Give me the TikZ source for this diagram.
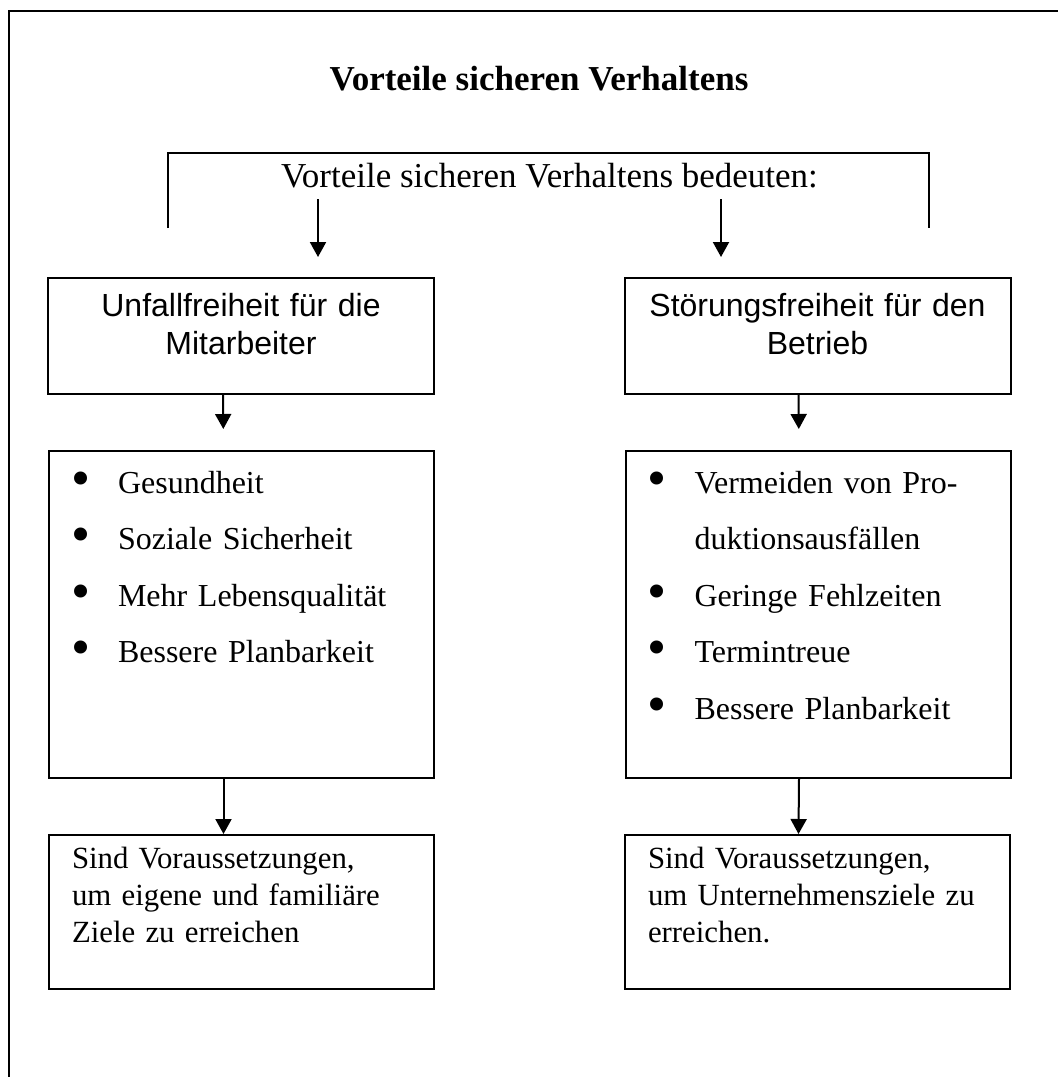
\documentclass[tikz,border=0pt]{standalone}
\usepackage{fontspec}
\setmainfont{Liberation Serif}
\newfontfamily\arialfont{Liberation Sans}
\usetikzlibrary{arrows.meta}
\newcommand\blt{\makebox[34.5pt][l]{\hspace*{11pt}\raisebox{-1.6pt}{\scalebox{1.7}{\textbullet}}}}
\tikzset{
	line/.style={line width=1pt},
	arr/.style={line width=1pt, -{Triangle[length=7.5pt,width=8pt]}},
	box/.style={draw, line width=1pt, inner ysep=0pt, anchor=north},
	headbox/.style={box, inner xsep=0pt, text width=193pt, align=center, text height=19pt, text depth=39pt, font=\arialfont\fontsize{16}{19}\selectfont},
	listbox/.style={box, inner xsep=0pt, text width=192.5pt, align=left, text height=21pt, text depth=142.5pt, font=\fontsize{16}{28.25}\selectfont},
	notebox/.style={box, inner xsep=11.5pt, text width=169.5pt, align=left, text height=16.5pt, text depth=60.5pt, font=\fontsize{15.4}{18.5}\selectfont}
}

\begin{document}
\begin{tikzpicture}[x=0.5pt, y=-0.5pt]
	%%%%% START %%%%%
	\useasboundingbox (0,0) rectangle (1058,1077);
	
	\draw[line width=1.2pt] (9,1077) -- (9,11) -- (1058,11);
	
	\node[anchor=base, font=\bfseries\fontsize{17.5}{21}\selectfont] (title) at (539,90) {Vorteile sicheren Verhaltens};
	
	\draw[line] (168,228) -- (168,153) -- (929,153) -- (929,228);
	\node[anchor=base, font=\fontsize{17.5}{21}\selectfont] (lead) at (549.5,187) {Vorteile sicheren Verhaltens bedeuten:};
	\coordinate (leftdrop) at (318,199);
	\coordinate (rightdrop) at (721,199);
	
	\node[headbox] (unfall) at (241,277) {Unfallfreiheit für die\\Mitarbeiter};
	\node[headbox] (stoerung) at (817.5,277) {Störungsfreiheit für den\\Betrieb};
	
	\node[listbox] (mensch) at (241.5,450) {\blt Gesundheit\\\blt Soziale Sicherheit\\\blt Mehr Lebensqualität\\\blt Bessere Planbarkeit};
	\node[listbox] (betrieb) at (818,450) {\blt Vermeiden von Pro-\\\hspace*{34.5pt}duktionsausfällen\\\blt Geringe Fehlzeiten\\\blt Termintreue\\\blt Bessere Planbarkeit};
	
	\node[notebox] (ziel1) at (241.5,834) {Sind Voraussetzungen,\\um eigene und familiäre\\Ziele zu erreichen};
	\node[notebox] (ziel2) at (817.5,834) {Sind Voraussetzungen,\\um Unternehmensziele zu\\erreichen.};
	
	\draw[arr, shorten >=10pt] (leftdrop) -- (leftdrop |- unfall.north);
	\draw[arr, shorten >=10pt] (rightdrop) -- (rightdrop |- stoerung.north);
	\draw[arr, shorten >=10.5pt] ([xshift=-9pt]unfall.south) -- ([xshift=-9pt]mensch.north);
	\draw[arr, shorten >=10.5pt] ([xshift=-9.5pt]stoerung.south) -- ([xshift=-9.5pt]betrieb.north);
	\draw[arr] ([xshift=-9pt]mensch.south) -- ([xshift=-9pt]ziel1.north);
	\draw[arr] ([xshift=-9.5pt]betrieb.south) -- ([xshift=-9.5pt]ziel2.north);
	
	%%%%% END %%%%%
\end{tikzpicture}
\end{document}
